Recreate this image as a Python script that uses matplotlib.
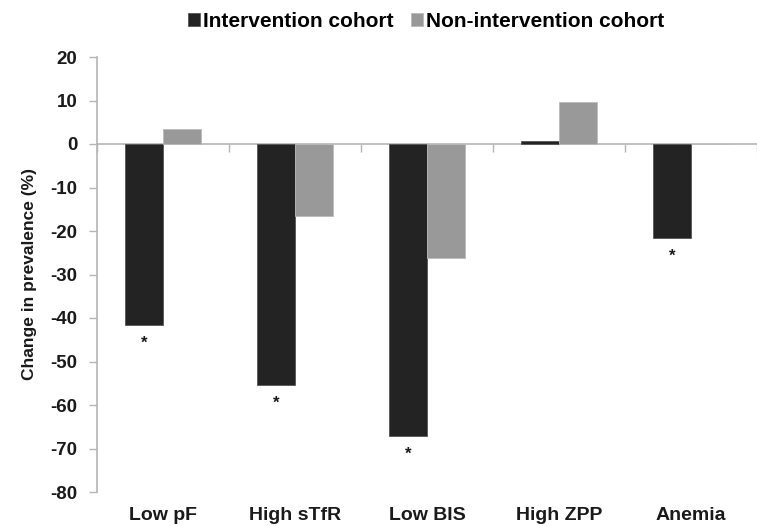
import numpy as np
import matplotlib.pyplot as plt

plt.rcParams['font.family'] = ['Liberation Sans', 'DejaVu Sans']
plt.rcParams['font.weight'] = 'bold'
plt.rcParams['axes.unicode_minus'] = False

categories = ["Low pF", "High sTfR", "Low BIS", "High ZPP", "Anemia"]
intervention = [-41.7, -55.4, -67.2, 0.7, -21.6]
non_intervention = [3.5, -16.6, -26.1, 9.6, 0.0]
significant = [True, True, True, False, True]
series_names = ["Intervention cohort", "Non-intervention cohort"]

dark = "#232323"
light = "#999999"
axis_gray = "#b5b5b5"

fig = plt.figure(figsize=(7.57, 5.26), dpi=100)
# axes runs slightly past the right image edge, as in the original
ax = fig.add_axes([97/757, 34/526, 660/757, 435/526])

x = np.arange(len(categories))
w = 0.29
ax.bar(x - w/2, intervention, w, color=dark, edgecolor="#555555", linewidth=0.6,
       label=series_names[0], zorder=3)
ax.bar(x + w/2, non_intervention, w, color=light, edgecolor="#bbbbbb", linewidth=0.6,
       label=series_names[1], zorder=3)

ax.set_ylim(-80, 20)
ax.set_xlim(-0.5, -0.5 + 660/133.3)
ax.set_yticks(np.arange(-80, 21, 10))
ax.tick_params(axis='y', length=6, width=1, color=axis_gray, labelsize=13.5, pad=8,
               labelcolor="#1a1a1a")

# x axis sits at zero, ticks at category boundaries
ax.spines['bottom'].set_position(('data', 0))
ax.spines['bottom'].set_color(axis_gray)
ax.spines['bottom'].set_linewidth(1.2)
ax.spines['left'].set_color(axis_gray)
ax.spines['left'].set_linewidth(1.2)
ax.spines['top'].set_visible(False)
ax.spines['right'].set_visible(False)
ax.set_xticks(np.arange(len(categories) + 1) - 0.5)
ax.set_xticklabels([])
ax.tick_params(axis='x', length=6, width=1, color=axis_gray)

for i, c in enumerate(categories):
    ax.text(i, -0.053, c, transform=ax.get_xaxis_transform(), ha='center', va='center',
            fontsize=14, fontweight='bold', color="#1a1a1a")

# significance stars below intervention bars
for i, (v, s) in enumerate(zip(intervention, significant)):
    if s:
        ax.annotate("*", (i - w/2, v), xytext=(0, -13), textcoords='offset points',
                    ha='center', va='center', fontsize=12, color="#1a1a1a")

ax.set_ylabel("Change in prevalence (%)", fontsize=12.5, fontweight='bold', labelpad=10,
              color="#1a1a1a")

fig.legend(loc='center', bbox_to_anchor=(426/757, 1 - 21/526), ncol=2, frameon=False,
           fontsize=15, handlelength=0.6, handleheight=0.6, handletextpad=0.15,
           columnspacing=0.8)

fig.savefig("out.png", dpi=100)
